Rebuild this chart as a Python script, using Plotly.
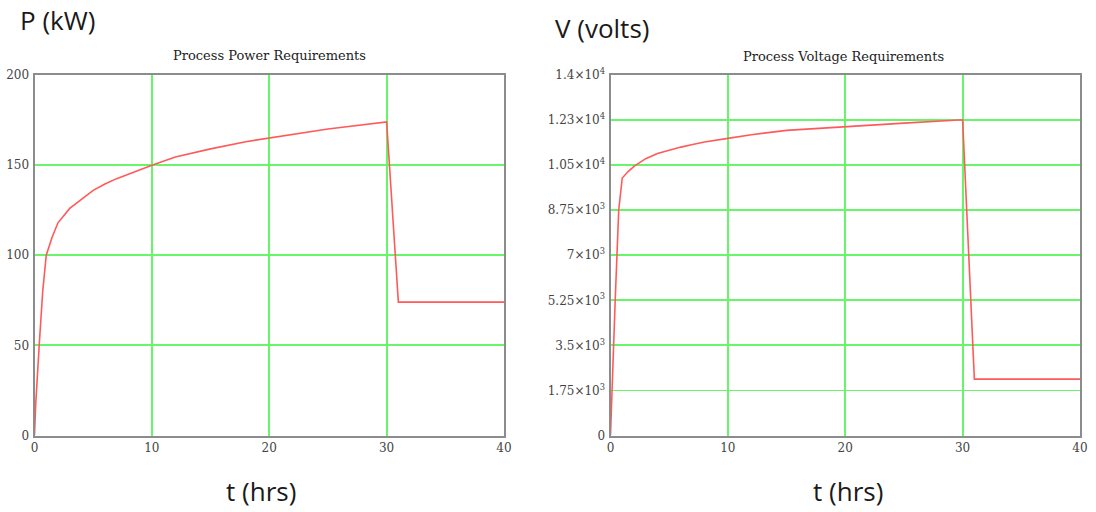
import plotly.graph_objects as go

# ---- data ----
t_power = [0, 0.1, 0.4, 0.7, 1, 1.5, 2, 3, 4, 5, 6, 7, 8, 10, 12, 15, 18, 20, 25, 30, 31, 40]
power_kw = [0, 17, 50, 80, 100, 110, 118, 126, 131, 136, 139.5, 142.5, 145, 150, 154.5, 159, 163, 165, 170, 174, 74, 74]

t_volt = [0, 0.1, 0.25, 0.4, 0.55, 0.7, 1, 1.5, 2, 3, 4, 5, 6, 7, 8, 10, 12, 15, 20, 25, 30, 31, 40]
volt_v = [0, 1500, 3500, 5250, 7000, 8750, 10000, 10250, 10450, 10750, 10950, 11080, 11200, 11300, 11400,
          11540, 11680, 11850, 12000, 12130, 12260, 2190, 2190]

x_ticks = [0, 10, 20, 30, 40]
p_ticks = [0, 50, 100, 150, 200]
v_ticks = [0, 1750, 3500, 5250, 7000, 8750, 10500, 12250, 14000]
v_tick_text = ["0", "1.75×10<sup>3</sup>", "3.5×10<sup>3</sup>", "5.25×10<sup>3</sup>", "7×10<sup>3</sup>",
               "8.75×10<sup>3</sup>", "1.05×10<sup>4</sup>", "1.23×10<sup>4</sup>", "1.4×10<sup>4</sup>"]

W, H = 1096, 512
RED = "rgb(255,90,90)"
GRID = "rgb(105,245,105)"
FRAME = "#8c8c8c"
TICKFONT = dict(family="DejaVu Serif", size=12, color="#444444")

fig = go.Figure()
fig.add_trace(go.Scatter(x=t_power, y=power_kw, mode="lines", line=dict(color=RED, width=1.6),
                         xaxis="x", yaxis="y", showlegend=False, hoverinfo="skip"))
fig.add_trace(go.Scatter(x=t_volt, y=volt_v, mode="lines", line=dict(color=RED, width=1.6),
                         xaxis="x2", yaxis="y2", showlegend=False, hoverinfo="skip"))

def px_x(p):
    return p / W

def px_y(p):
    return 1 - p / H

ydom = [px_y(435.5), px_y(75)]
axis_common = dict(showline=True, linecolor=FRAME, linewidth=2, mirror=True, automargin=False,
                   showgrid=True, gridcolor=GRID, gridwidth=1.8, zeroline=False,
                   ticks="", tickfont=TICKFONT, fixedrange=True)

fig.update_layout(
    template="none",
    width=W, height=H,
    margin=dict(l=0, r=0, t=0, b=0, pad=0),
    paper_bgcolor="white", plot_bgcolor="white",
    hovermode=False,
    xaxis=dict(domain=[px_x(34.5), px_x(504)], range=[0, 40], tickvals=x_ticks, anchor="y", **axis_common),
    yaxis=dict(domain=ydom, range=[0, 200], tickvals=p_ticks, anchor="x", ticklabelstandoff=1, **axis_common),
    xaxis2=dict(domain=[px_x(610.5), px_x(1080)], range=[0, 40], tickvals=x_ticks, anchor="y2", **axis_common),
    yaxis2=dict(domain=ydom, range=[0, 14000], tickvals=v_ticks, ticktext=v_tick_text, anchor="x2",
                ticklabelstandoff=1, **axis_common),
)

title_font = dict(family="DejaVu Serif", size=13, color="#222222")
big_font = dict(family="Open Sans", size=26, color="#1a1a1a")
annos = [
    dict(text="Process Power Requirements", x=px_x(269), y=px_y(55), font=title_font),
    dict(text="Process Voltage Requirements", x=px_x(843), y=px_y(56), font=title_font),
    dict(text="P (kW)", x=px_x(57), y=px_y(20), font=big_font),
    dict(text="V (volts)", x=px_x(602), y=px_y(28), font=big_font),
    dict(text="t (hrs)", x=px_x(261), y=px_y(491), font=big_font),
    dict(text="t (hrs)", x=px_x(848), y=px_y(491), font=big_font),
]
for a in annos:
    fig.add_annotation(xref="paper", yref="paper", showarrow=False, xanchor="center", yanchor="middle", **a)

fig.write_html("out.html",
               config={"displayModeBar": False, "staticPlot": True},
               post_script="document.body.style.margin='0px';document.body.style.overflow='hidden';")
